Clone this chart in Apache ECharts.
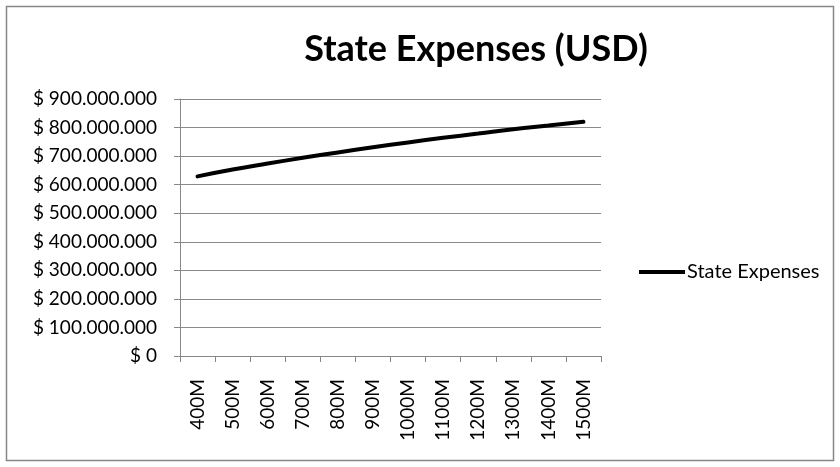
<!DOCTYPE html>
<html>
<head>
<meta charset="utf-8">
<script src="https://cdn.jsdelivr.net/npm/echarts@6/dist/echarts.min.js"></script>
<style>
html,body{margin:0;padding:0;background:#fff;}
#chart{width:840px;height:467px;}
</style>
</head>
<body>
<div id="chart"></div>
<script>
const categories = ['400M','500M','600M','700M','800M','900M','1000M','1100M','1200M','1300M','1400M','1500M'];
const expenses = [629e6, 653e6, 674e6, 694e6, 713e6, 731e6, 748e6, 764e6, 779e6, 794e6, 807e6, 820e6];
const seriesName = 'State Expenses';
const titleText = 'State Expenses (USD)';

const FONT = 'Lato, "Open Sans", sans-serif';
function fmt(v){
  if (v === 0) return '$ 0';
  return '$ ' + String(Math.round(v)).replace(/\B(?=(\d{3})+(?!\d))/g, '.');
}

const chart = echarts.init(document.getElementById('chart'), null, {renderer:'canvas'});
chart.setOption({
  animation:false,
  backgroundColor:'#fff',
  graphic:[{
    type:'rect', shape:{x:6.5,y:6.5,width:827,height:454},
    style:{fill:'none', stroke:'#878787', lineWidth:1.5}, silent:true
  }],
  title:{
    text:titleText, left:471, textAlign:'center', top:26,
    textStyle:{fontFamily:FONT, fontWeight:'bold', fontSize:36, color:'#000'}
  },
  legend:{
    data:[{name:seriesName, icon:'rect'}],
    left:634, top:257, itemWidth:46, itemHeight:4, itemGap:0,
    textStyle:{fontFamily:FONT, fontSize:20, color:'#000', padding:[0,0,0,-3]}
  },
  grid:{left:180, right:239, top:99, bottom:111, containLabel:false},
  xAxis:{
    type:'category', data:categories, boundaryGap:true,
    axisLine:{lineStyle:{color:'#878787', width:1}},
    axisTick:{show:true, length:6, alignWithLabel:false, lineStyle:{color:'#878787'}},
    axisLabel:{rotate:90, margin:23, fontFamily:FONT, fontSize:19, color:'#000', interval:0}
  },
  yAxis:{
    type:'value', min:0, max:900e6, interval:100e6,
    axisLine:{show:true, lineStyle:{color:'#878787', width:1}},
    axisTick:{show:true, length:6, lineStyle:{color:'#878787'}},
    splitLine:{show:true, lineStyle:{color:'#8a8a8a', width:1}},
    axisLabel:{formatter:fmt, margin:23, fontFamily:FONT, fontSize:19, color:'#000'}
  },
  series:[{
    name:seriesName, type:'line', data:expenses, smooth:true, symbol:'none',
    lineStyle:{color:'#000', width:4, cap:'round'}, itemStyle:{color:'#000'}
  }]
});
</script>
</body>
</html>
